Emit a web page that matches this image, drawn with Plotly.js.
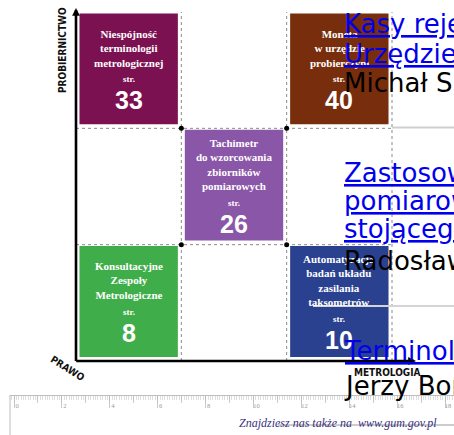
<!DOCTYPE html>
<html>
<head>
<meta charset="utf-8">
<script src="https://cdn.plot.ly/plotly-3.0.1.min.js"></script>
<style>html,body{margin:0;padding:0;background:#fff;overflow:hidden}</style>
</head>
<body>
<div id="chart" style="width:454px;height:435px"></div>
<script>
// ---------------- data ----------------
const boxTitles = [
  ['Niespójność', 'terminologii', 'metrologicznej'],
  ['Moneta', 'w urzędzie', 'probierczym'],
  ['Tachimetr', 'do wzorcowania', 'zbiorników', 'pomiarowych'],
  ['Konsultacyjne', 'Zespoły', 'Metrologiczne'],
  ['Automatyzacja', 'badań układu', 'zasilania', 'taksometrów']
];
const boxPages = [33, 40, 26, 8, 10];
const boxColumn = [0, 2, 1, 0, 2];   // position along METROLOGIA
const boxRow = [2, 2, 1, 0, 0];      // position along PROBIERNICTWO
const pageLabel = 'str.';
const axisNames = ['PROBIERNICTWO', 'PRAWO', 'METROLOGIA'];
const gridSize = 3;

const articleLinkLines = ['Kasy rejestrujące w', 'Urzędzie', 'Zastosowanie', 'pomiarowych', 'stojącego', 'Terminologia'];
const articleAuthors = ['Michał S', 'Radosław', 'Jerzy Bor'];

const rulerCm = [0,1,2,3,4,5,6,7,8,9,10,11,12,13,14,15,16,17,18];
const rulerLabelVals = [0,2,4,6,8,10,12,14,16,18];
const rulerLabels = ['0','2','4','6','8','10','12','14','16','18'];
const footerText = 'Znajdziesz nas także na\u00a0 www.gum.gov.pl';

// ---------------- styles / layout ----------------
const boxColors = ['#7C1151', '#782D0C', '#8A56A8', '#3FAE4A', '#2A4190'];
const W = 454, H = 435;
const X0 = 76, XU = 105.333, Y0 = 361, YU = 116.333;
const px2x = px => (px - X0) / XU;
const py2y = py => (Y0 - py) / YU;
const PX = px => px / W;
const PY = py => 1 - py / H;

const BOX_INSET_X = 0.033, BOX_BOTTOM = 0.035, BOX_TOP = 0.012;

const traces = [];
traces.push({
  type: 'bar',
  x: boxColumn.map(c => c + 0.5),
  base: boxRow.map(r => r + BOX_BOTTOM),
  y: boxRow.map(() => 1 - BOX_BOTTOM - BOX_TOP),
  width: 1 - 2 * BOX_INSET_X,
  marker: {color: boxColors, line: {width: 0}},
  hoverinfo: 'skip', showlegend: false
});

// grid intersection dots
const dotX = [], dotY = [];
for (let i = 1; i < gridSize; i++) for (let j = 1; j < gridSize; j++) { dotX.push(i); dotY.push(j); }
traces.push({
  type: 'scatter', mode: 'markers', x: dotX, y: dotY,
  marker: {size: 5, color: '#000'}, hoverinfo: 'skip', showlegend: false
});

// ruler helper traces (invisible)
traces.push({type: 'scatter', mode: 'markers', x: rulerCm, y: rulerCm.map(() => -0.5),
  xaxis: 'x2', yaxis: 'y', marker: {opacity: 0}, hoverinfo: 'skip', showlegend: false});
traces.push({type: 'scatter', mode: 'markers', x: rulerLabelVals, y: rulerLabelVals.map(() => -0.5),
  xaxis: 'x3', yaxis: 'y', marker: {opacity: 0}, hoverinfo: 'skip', showlegend: false});

const shapes = [];
for (let i = 1; i <= gridSize; i++) {
  shapes.push({type: 'line', xref: 'x', yref: 'y', x0: i, x1: i, y0: 0, y1: gridSize,
    line: {color: '#8a8a8a', width: 1, dash: 'dot'}, layer: 'below'});
}
for (let j = 1; j < gridSize; j++) {
  shapes.push({type: 'line', xref: 'x', yref: 'y', x0: 0, x1: gridSize, y0: j, y1: j,
    line: {color: '#8a8a8a', width: 1, dash: 'dot'}, layer: 'below'});
}
// stray page lines
shapes.push({type: 'line', xref: 'paper', yref: 'paper', x0: PX(392), x1: 1, y0: PY(127.5), y1: PY(127.5), line: {color: '#cfcfcf', width: 2}});
shapes.push({type: 'line', xref: 'paper', yref: 'paper', x0: PX(313), x1: 1, y0: PY(306), y1: PY(306), line: {color: '#d4d4d4', width: 2}});
shapes.push({type: 'line', xref: 'paper', yref: 'paper', x0: PX(278), x1: 1, y0: PY(425), y1: PY(425), line: {color: '#9a9a9a', width: 1}});
// ruler left edge
shapes.push({type: 'line', xref: 'paper', yref: 'paper', x0: PX(10), x1: PX(10), y0: PY(395), y1: 0, line: {color: '#bdbdbd', width: 1}});

const annotations = [];
// box texts
const TITLE_FS = 11;
const LS = TITLE_FS * 1.3;
boxTitles.forEach((lines, i) => {
  const n = lines.length;
  const Hc = (n - 1) * LS + 17 + 21;
  const numShift = 3 - Hc / 2;
  const strShift = numShift + 21;
  const titleShift = 3 + Hc / 2 - (n - 1) * LS / 2;
  const cx = boxColumn[i] + 0.5, cy = boxRow[i] + 0.5;
  annotations.push({x: cx, y: cy, xref: 'x', yref: 'y', showarrow: false, yshift: titleShift,
    xanchor: 'center', yanchor: 'middle', align: 'center',
    text: lines.join('<br>'),
    font: {family: 'Liberation Serif, serif', size: TITLE_FS, color: '#fff', weight: 'bold'}});
  annotations.push({x: cx, y: cy, xref: 'x', yref: 'y', showarrow: false, yshift: strShift,
    xanchor: 'center', yanchor: 'middle', text: pageLabel,
    font: {family: 'Liberation Serif, serif', size: 9, color: '#fff', weight: 'bold'}});
  annotations.push({x: cx, y: cy, xref: 'x', yref: 'y', showarrow: false, yshift: numShift,
    xanchor: 'center', yanchor: 'middle', text: String(boxPages[i]),
    font: {family: 'Liberation Sans, Arial, sans-serif', size: 25, color: '#fff', weight: 'bold'}});
});

// axis arrows
annotations.push({x: 0, y: py2y(8), ax: 0, ay: py2y(362.5), xref: 'x', yref: 'y', axref: 'x', ayref: 'y',
  text: '', showarrow: true, arrowhead: 2, arrowsize: 0.6, arrowwidth: 2.6, arrowcolor: '#000'});
annotations.push({x: px2x(416), y: 0, ax: px2x(74.7), ay: 0, xref: 'x', yref: 'y', axref: 'x', ayref: 'y',
  text: '', showarrow: true, arrowhead: 2, arrowsize: 0.6, arrowwidth: 2.6, arrowcolor: '#000'});

// axis names
const axFont = {family: 'Liberation Sans Narrow, DejaVu Sans Condensed, Arial, sans-serif', size: 10, color: '#111', weight: 'bold'};
annotations.push({x: PX(63), y: PY(50), xref: 'paper', yref: 'paper', showarrow: false, textangle: -90,
  xanchor: 'center', yanchor: 'middle', text: axisNames[0], font: axFont});
annotations.push({x: PX(68), y: PY(368), xref: 'paper', yref: 'paper', showarrow: false, textangle: 32,
  xanchor: 'center', yanchor: 'middle', text: axisNames[1], font: axFont});
annotations.push({x: PX(387), y: PY(372), xref: 'paper', yref: 'paper', showarrow: false,
  xanchor: 'center', yanchor: 'middle', text: axisNames[2], font: axFont});

// overflowing article list text
const linkBaselines = [33, 63, 182, 210, 238, 360];
const authorBaselines = [92, 270, 395];
const LINK_FS = 26;
articleLinkLines.forEach((t, i) => {
  annotations.push({x: PX(342), y: PY(linkBaselines[i] - 0.346 * LINK_FS), xref: 'paper', yref: 'paper',
    xanchor: 'left', yanchor: 'middle', showarrow: false,
    text: '<span style="text-decoration:underline">' + t + '</span>',
    font: {family: 'DejaVu Sans, sans-serif', size: LINK_FS, color: '#0000EE'}});
});
articleAuthors.forEach((t, i) => {
  annotations.push({x: PX(342), y: PY(authorBaselines[i] - 0.346 * LINK_FS), xref: 'paper', yref: 'paper',
    xanchor: 'left', yanchor: 'middle', showarrow: false, text: t,
    font: {family: 'DejaVu Sans, sans-serif', size: LINK_FS, color: '#000'}});
});

// footer
annotations.push({x: PX(338), y: PY(423), xref: 'paper', yref: 'paper', showarrow: false,
  xanchor: 'center', yanchor: 'middle',
  text: footerText, font: {family: 'Liberation Serif, serif', size: 12, color: '#3B2F80', style: 'italic'}});

const RULER_Y = 395, RULER_X0 = 14, CM = 23.95;
const rulerRange = [(10 - RULER_X0) / CM, (W - RULER_X0) / CM];

const layout = {
  width: W, height: H,
  margin: {l: 0, r: 0, t: 0, b: 0, pad: 0},
  paper_bgcolor: '#fff', plot_bgcolor: 'rgba(0,0,0,0)',
  showlegend: false, barmode: 'overlay',
  xaxis: {range: [px2x(0), px2x(W)], visible: false, fixedrange: true, domain: [0, 1]},
  yaxis: {range: [py2y(H), py2y(0)], visible: false, fixedrange: true, domain: [0, 1]},
  xaxis2: {type: 'linear', domain: [PX(10), 1], anchor: 'free', position: PY(RULER_Y), range: rulerRange,
    showline: true, linecolor: '#bdbdbd', linewidth: 1, showgrid: false, zeroline: false,
    tickmode: 'array', tickvals: rulerCm, ticktext: rulerCm.map(() => ''), ticks: 'outside',
    ticklen: 7, tickwidth: 0.8, tickcolor: '#bdbdbd', fixedrange: true,
    minor: {ticks: 'outside', dtick: 0.1, tick0: 0, ticklen: 4, tickwidth: 0.6, tickcolor: '#c8c8c8', showgrid: false}},
  xaxis3: {type: 'linear', overlaying: 'x2', anchor: 'free', position: PY(RULER_Y), range: rulerRange,
    showline: false, showgrid: false, zeroline: false,
    tickmode: 'array', tickvals: rulerLabelVals, ticktext: rulerLabels, ticks: 'outside',
    ticklen: 12, tickwidth: 0.8, tickcolor: '#bdbdbd', ticklabelshift: 3, ticklabelstandoff: -8,
    tickfont: {family: 'Liberation Serif, serif', size: 6.5, color: '#999'}, fixedrange: true}
};

Plotly.newPlot('chart', traces, {...layout, shapes, annotations}, {staticPlot: true, displayModeBar: false});
</script>
</body>
</html>
